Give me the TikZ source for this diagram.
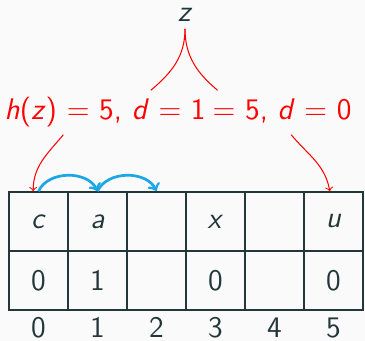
\documentclass[tikz,border=0pt]{standalone}
\definecolor{mdark}{HTML}{23373B}
\definecolor{mbg}{HTML}{FAFAFA}
\definecolor{mblue}{HTML}{1AA7E6}
\newcommand{\sv}[1]{\textit{#1}}
\begin{document}
\begin{tikzpicture}[x=1cm,y=1cm,
  every node/.style={font=\Large\sffamily, text=mdark},
  cell/.style={draw=mdark, line width=0.8pt, minimum width=1cm, minimum height=1cm},
  idx/.style={inner sep=1pt},
  lbl/.style={text=red, text height=10.8pt, text depth=3.6pt},
  hop/.style={->, draw=mblue, line width=1.3pt}]
\fill[mbg] (-0.153,-0.525) rectangle (6.034,5.254);
\useasboundingbox (-0.153,-0.525) rectangle (6.034,5.254);

\node (z) at (2.983,5.0) {\sv{z}};
\node[lbl, anchor=base] (lblL) at (1.63,3.22) {\sv{h}(\sv{z}) = 5, \sv{d} = 1};
\node[lbl, anchor=base] (lblR) at (4.63,3.22) {= 5, \sv{d} = 0};

% table
\node[cell] (c0) at (0.5,1.5) {\sv{c}};
\node[cell] (c1) at (1.5,1.5) {\sv{a}};
\node[cell] (c2) at (2.5,1.5) {};
\node[cell] (c3) at (3.5,1.5) {\sv{x}};
\node[cell] (c4) at (4.5,1.5) {};
\node[cell] (c5) at (5.5,1.5) {\sv{u}};
\node[cell] (v0) at (0.5,0.5) {0};
\node[cell] (v1) at (1.5,0.5) {1};
\node[cell] (v2) at (2.5,0.5) {};
\node[cell] (v3) at (3.5,0.5) {0};
\node[cell] (v4) at (4.5,0.5) {};
\node[cell] (v5) at (5.5,0.5) {0};
\node[idx] (i0) at (0.5,-0.30) {0};
\node[idx] (i1) at (1.5,-0.30) {1};
\node[idx] (i2) at (2.5,-0.30) {2};
\node[idx] (i3) at (3.5,-0.30) {3};
\node[idx] (i4) at (4.5,-0.30) {4};
\node[idx] (i5) at (5.5,-0.30) {5};

\draw[red, line width=0.5pt] (z.south) to[out=-90, in=40] (lblL.26.5);
\draw[red, line width=0.5pt] (z.south) to[out=-90, in=140] (lblR.161.4);
\draw[->, red, line width=0.5pt] (lblL.208) to[out=-130, in=90] (c0.100);
\draw[->, red, line width=0.5pt] (lblR.292) to[out=-50, in=100] (c5.97);

\draw[hop] (c0.north) to[bend left=65] (c1.north);
\draw[hop] (c1.north) to[bend left=65] (c2.north);
\end{tikzpicture}
\end{document}
